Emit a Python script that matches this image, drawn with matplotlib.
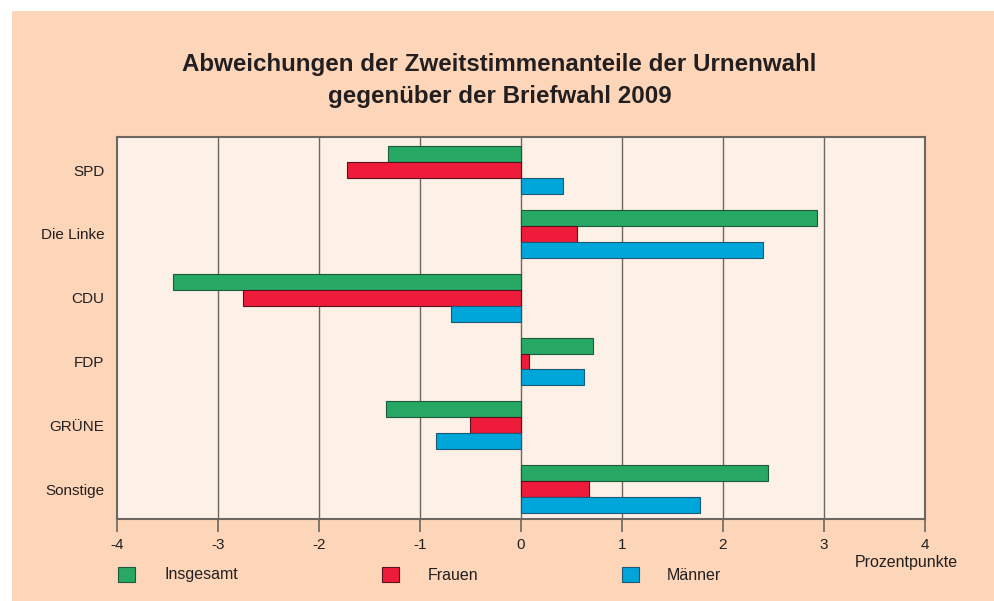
import matplotlib.pyplot as plt
import numpy as np
from matplotlib.patches import Rectangle

plt.rcParams['font.family'] = ['Liberation Sans', 'DejaVu Sans']

parties = ['SPD', 'Die Linke', 'CDU', 'FDP', 'GRÜNE', 'Sonstige']
insgesamt = [-1.32, 2.93, -3.45, 0.71, -1.34, 2.45]
frauen = [-1.72, 0.55, -2.75, 0.08, -0.50, 0.67]
maenner = [0.42, 2.40, -0.69, 0.62, -0.84, 1.77]
series_names = ['Insgesamt', 'Frauen', 'Männer']
xticks = [-4, -3, -2, -1, 0, 1, 2, 3, 4]

colors = ['#27a864', '#ee1c3a', '#00a5d9']
edges = ['#1d5a3a', '#5a1020', '#1a5a78']
outer_bg = '#fdd5b8'
inner_bg = '#fdf0e6'
line_col = '#6e6660'

W, H = 995, 601
fig = plt.figure(figsize=(W / 100, H / 100), dpi=100, facecolor='white')
fig.patches.append(Rectangle((12 / W, 0), 1 - 12 / W, 1 - 11 / H, transform=fig.transFigure,
                             facecolor=outer_bg, edgecolor='none', zorder=-10))

ax = fig.add_axes([117 / W, 1 - 519 / H, (925 - 117) / W, (519 - 137) / H])
ax.set_facecolor(inner_bg)

y = np.arange(len(parties))
h = 0.25
for i, (vals, c, ec) in enumerate(zip([insgesamt, frauen, maenner], colors, edges)):
    ax.barh(y + (i - 1) * h, vals, height=h, color=c, edgecolor=ec, linewidth=0.8, zorder=3)

ax.set_xlim(-4, 4)
ax.set_ylim(5.47, -0.52)
ax.set_xticks(xticks)
ax.set_xticklabels([str(t) for t in xticks], fontsize=11, color='#231f20')
ax.set_yticks(y)
ax.set_yticklabels(parties, fontsize=11, color='#231f20')
ax.tick_params(axis='y', length=0, pad=9)
ax.tick_params(axis='x', length=9, width=1.2, color=line_col, pad=5)
for t in xticks[1:-1]:
    ax.axvline(t, color=line_col, linewidth=1, zorder=1)
for s in ax.spines.values():
    s.set_color(line_col)
    s.set_linewidth(1.5)

fig.text(0.502, 1 - 65 / H, 'Abweichungen der Zweitstimmenanteile der Urnenwahl',
         ha='center', va='center', fontsize=17.4, fontweight='bold', color='#231f20')
fig.text(0.502, 1 - 97 / H, 'gegenüber der Briefwahl 2009',
         ha='center', va='center', fontsize=17.4, fontweight='bold', color='#231f20')

fig.text(958 / W, 1 - 562 / H, 'Prozentpunkte', ha='right', va='center', fontsize=11.5, color='#231f20')

sq_x = [118, 382, 622]
txt_x = [165, 428, 667]
for name, c, ec, sx, tx in zip(series_names, colors, edges, sq_x, txt_x):
    fig.patches.append(Rectangle((sx / W, 1 - 582 / H), 17 / W, 15 / H, transform=fig.transFigure,
                                 facecolor=c, edgecolor=ec, linewidth=0.8))
    fig.text(tx / W, 1 - 575 / H, name, ha='left', va='center', fontsize=11.5, color='#231f20')

fig.savefig('out.png', dpi=100, facecolor=fig.get_facecolor())
